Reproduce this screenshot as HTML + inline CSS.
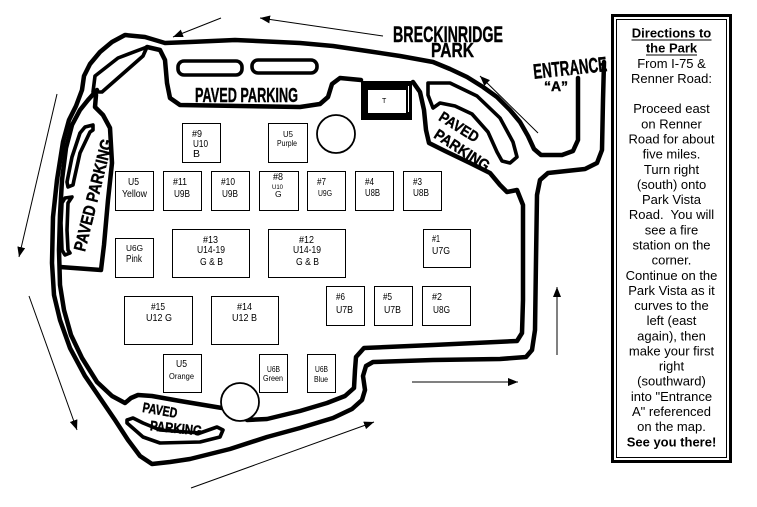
<!DOCTYPE html>
<html><head><meta charset="utf-8"><style>
html,body{margin:0;padding:0;background:#fff;}
body{width:757px;height:507px;overflow:hidden;}
svg{display:block;}
.rd{fill:none;stroke:#000;stroke-width:4.5;stroke-linejoin:round;stroke-linecap:round;}
.is{fill:none;stroke:#000;stroke-width:3.6;stroke-linejoin:round;stroke-linecap:round;}
.bx{fill:#fff;stroke:#000;stroke-width:1;}
.ar{stroke:#000;stroke-width:1;fill:none;}
.ft{font-family:"Liberation Sans",Arial,sans-serif;font-size:10.5px;fill:#000;}
.fs{font-family:"Liberation Sans",Arial,sans-serif;font-size:8.5px;fill:#000;}
.hd{font-family:"Liberation Sans",Arial,sans-serif;font-weight:bold;fill:#000;stroke:#000;stroke-width:0.4;}
.pn{font-family:"Liberation Sans",Arial,sans-serif;font-size:13px;fill:#000;}
</style></head><body>
<svg width="757" height="507" viewBox="0 0 757 507" xmlns="http://www.w3.org/2000/svg">
<defs>
<marker id="ah" markerWidth="10" markerHeight="8" refX="10" refY="4" orient="auto" markerUnits="userSpaceOnUse"><path d="M0,0 L10,4 L0,8 Z" fill="#000"/></marker>
</defs>
<rect width="757" height="507" fill="#fff"/>

<path class="rd" d="M578,78 L578,140 L573,151 L562,155 L541,155 L534,149 L528,136 L520,122 L510,110 L497,97 L483,87 L467,77 L450,69 L433,62 L400,56 L367,51 L333,46 L300,43 L235,40 L190,42 L165,43 L145,37 L125,35 L112,42 L100,52 L90,64 L84,76 L82,90 L76,106 L69,120 L63,142 L57,180 L53,217 L52,263 L54,295 L60,320 L70,348 L85,376 L100,398 L115,420 L128,440 L140,456 L152,464 L170,462 L190,459 L230,449 L267,437 L300,428 L333,418 L352,409 L362,400 L365,390 L363,376 L366,366 L373,362 L433,360 L500,359 L526,357 L532,350 L535,330 L536,260 L537,195 L540,180 L548,173 L585,169 L597,163 L602,150 L603,100 L604,62"/>

<path class="rd" d="M97,90 L88,100 L80,110 L72,125 L66,148 L62,180 L60,215 L59,250 L60,285 L64,310 L71,335 L82,358 L97,382 L112,396 L125,403 L131,398 L138,395 L152,396 L180,401 L222,408"/>
<path class="rd" d="M247,420 L267,419 L300,411 L327,403 L345,396 L354,388 L355,370 L356,357 L364,348 L433,345 L517,341 L522,333 L523,300 L523,205 L517,190 L507,192 L500,185 L490,173 L470,163 L445,151 L429,143 L426,130 L424,110 L420,92 L413,82"/>

<path class="rd" d="M147,47 L160,50 L165,60 L167,83 L170,98 L180,105 L300,107 L320,104 L328,97 L332,84 L340,78 L361,80"/>
<path class="is" d="M93,92 L95,76 L118,58 L147,47 L143,56 L102,92 Z"/>
<path class="rd" d="M96,95 L95,107 L103,115 L110,128 L112,163 L108,200 L104,245 L101,270 L60,267"/>

<rect class="is" x="178" y="61" width="64" height="14" rx="6"/>
<rect class="is" x="252" y="60" width="65" height="13" rx="6"/>
<path class="is" d="M85,127 L93,125 L93,130 L90,132 L80,153 L74,180 L73,185 L68,187 L67,182 L72,157 L80,133 Z"/>
<path class="is" d="M65,198 L72,197 L68,203 L67,230 L68,250 L70,253 L65,255 L62,250 L61,223 L62,203 Z"/>
<path class="is" d="M428,83 L450,83 L477,96 L500,118 L513,142 L517,157 L510,163 L502,161 L497,152 L488,132 L472,114 L455,106 L440,103 L433,108 L428,95 Z"/>
<path class="is" d="M127,420 L133,418 L143,423 L160,430 L200,433 L217,427 L223,430 L220,437 L200,442 L160,443 L143,437 L127,423 Z"/>

<circle cx="336" cy="134" r="19" fill="#fff" stroke="#000" stroke-width="1.8"/>
<circle cx="240" cy="402" r="19" fill="#fff" stroke="#000" stroke-width="1.8"/>

<rect x="361" y="81" width="51" height="39" fill="#000"/>
<rect x="368" y="90" width="38" height="23" fill="#fff"/>
<line x1="408.5" y1="86" x2="408.5" y2="112" stroke="#fff" stroke-width="1"/>
<text x="382" y="103" font-family="Liberation Sans, sans-serif" font-size="7" fill="#000">T</text>

<rect class="bx" x="182.5" y="123.5" width="38" height="39"/>
<rect class="bx" x="268.5" y="123.5" width="39" height="39"/>
<rect class="bx" x="115.5" y="171.5" width="38" height="39"/>
<rect class="bx" x="163.5" y="171.5" width="38" height="39"/>
<rect class="bx" x="211.5" y="171.5" width="38" height="39"/>
<rect class="bx" x="259.5" y="171.5" width="39" height="39"/>
<rect class="bx" x="307.5" y="171.5" width="38" height="39"/>
<rect class="bx" x="355.5" y="171.5" width="38" height="39"/>
<rect class="bx" x="403.5" y="171.5" width="38" height="39"/>
<rect class="bx" x="172.5" y="229.5" width="77" height="48"/>
<rect class="bx" x="268.5" y="229.5" width="77" height="48"/>
<rect class="bx" x="115.5" y="238.5" width="38" height="39"/>
<rect class="bx" x="423.5" y="229.5" width="47" height="38"/>
<rect class="bx" x="326.5" y="286.5" width="38" height="39"/>
<rect class="bx" x="374.5" y="286.5" width="38" height="39"/>
<rect class="bx" x="422.5" y="286.5" width="48" height="39"/>
<rect class="bx" x="124.5" y="296.5" width="68" height="48"/>
<rect class="bx" x="211.5" y="296.5" width="67" height="48"/>
<rect class="bx" x="163.5" y="354.5" width="38" height="38"/>
<rect class="bx" x="259.5" y="354.5" width="28" height="38"/>
<rect class="bx" x="307.5" y="354.5" width="28" height="38"/>

<text class="ft" x="192" y="137" textLength="10" lengthAdjust="spacingAndGlyphs">#9</text>
<text class="ft" x="193" y="147" textLength="15" lengthAdjust="spacingAndGlyphs">U10</text>
<text class="ft" x="193" y="157">B</text>
<text class="fs" x="283" y="137" textLength="10" lengthAdjust="spacingAndGlyphs">U5</text>
<text class="fs" x="277" y="146" textLength="20" lengthAdjust="spacingAndGlyphs">Purple</text>
<text class="ft" x="128" y="185" textLength="11" lengthAdjust="spacingAndGlyphs">U5</text>
<text class="ft" x="122" y="197" textLength="25" lengthAdjust="spacingAndGlyphs">Yellow</text>
<text class="ft" x="173" y="185" textLength="14" lengthAdjust="spacingAndGlyphs">#11</text>
<text class="ft" x="174" y="197" textLength="16" lengthAdjust="spacingAndGlyphs">U9B</text>
<text class="ft" x="221" y="185" textLength="14" lengthAdjust="spacingAndGlyphs">#10</text>
<text class="ft" x="222" y="197" textLength="16" lengthAdjust="spacingAndGlyphs">U9B</text>
<text class="ft" x="273" y="180" textLength="10" lengthAdjust="spacingAndGlyphs">#8</text>
<text x="272" y="189" font-family="Liberation Sans, sans-serif" font-size="6.5" textLength="11" lengthAdjust="spacingAndGlyphs">U10</text>
<text class="fs" x="275" y="197">G</text>
<text class="ft" x="317" y="185" textLength="9" lengthAdjust="spacingAndGlyphs">#7</text>
<text class="fs" x="318" y="196" textLength="14" lengthAdjust="spacingAndGlyphs">U9G</text>
<text class="ft" x="365" y="185" textLength="9" lengthAdjust="spacingAndGlyphs">#4</text>
<text class="ft" x="365" y="196" textLength="15" lengthAdjust="spacingAndGlyphs">U8B</text>
<text class="ft" x="413" y="185" textLength="9" lengthAdjust="spacingAndGlyphs">#3</text>
<text class="ft" x="413" y="196" textLength="16" lengthAdjust="spacingAndGlyphs">U8B</text>
<text class="ft" x="203" y="243" textLength="15" lengthAdjust="spacingAndGlyphs">#13</text>
<text class="ft" x="197" y="253" textLength="28" lengthAdjust="spacingAndGlyphs">U14-19</text>
<text class="ft" x="200" y="265" textLength="23" lengthAdjust="spacingAndGlyphs">G &amp; B</text>
<text class="ft" x="299" y="243" textLength="15" lengthAdjust="spacingAndGlyphs">#12</text>
<text class="ft" x="293" y="253" textLength="28" lengthAdjust="spacingAndGlyphs">U14-19</text>
<text class="ft" x="296" y="265" textLength="23" lengthAdjust="spacingAndGlyphs">G &amp; B</text>
<text class="fs" x="126" y="251" textLength="17" lengthAdjust="spacingAndGlyphs">U6G</text>
<text class="ft" x="126" y="262" textLength="16" lengthAdjust="spacingAndGlyphs">Pink</text>
<text class="ft" x="432" y="242" textLength="8" lengthAdjust="spacingAndGlyphs">#1</text>
<text class="ft" x="432" y="254" textLength="18" lengthAdjust="spacingAndGlyphs">U7G</text>
<text class="ft" x="336" y="300" textLength="9" lengthAdjust="spacingAndGlyphs">#6</text>
<text class="ft" x="336" y="313" textLength="17" lengthAdjust="spacingAndGlyphs">U7B</text>
<text class="ft" x="383" y="300" textLength="9" lengthAdjust="spacingAndGlyphs">#5</text>
<text class="ft" x="384" y="313" textLength="17" lengthAdjust="spacingAndGlyphs">U7B</text>
<text class="ft" x="432" y="300" textLength="10" lengthAdjust="spacingAndGlyphs">#2</text>
<text class="ft" x="433" y="313" textLength="17" lengthAdjust="spacingAndGlyphs">U8G</text>
<text class="ft" x="151" y="310" textLength="14" lengthAdjust="spacingAndGlyphs">#15</text>
<text class="ft" x="146" y="321" textLength="26" lengthAdjust="spacingAndGlyphs">U12 G</text>
<text class="ft" x="237" y="310" textLength="15" lengthAdjust="spacingAndGlyphs">#14</text>
<text class="ft" x="232" y="321" textLength="25" lengthAdjust="spacingAndGlyphs">U12 B</text>
<text class="ft" x="176" y="367" textLength="11" lengthAdjust="spacingAndGlyphs">U5</text>
<text class="fs" x="169" y="379" textLength="25" lengthAdjust="spacingAndGlyphs">Orange</text>
<text class="fs" x="267" y="372" textLength="13" lengthAdjust="spacingAndGlyphs">U6B</text>
<text class="fs" x="263" y="381" textLength="20" lengthAdjust="spacingAndGlyphs">Green</text>
<text class="fs" x="315" y="372" textLength="13" lengthAdjust="spacingAndGlyphs">U6B</text>
<text class="fs" x="314" y="382" textLength="14" lengthAdjust="spacingAndGlyphs">Blue</text>

<text class="hd" x="393" y="42" font-size="22" textLength="110" lengthAdjust="spacingAndGlyphs">BRECKINRIDGE</text>
<text class="hd" x="431" y="57" font-size="20" textLength="43" lengthAdjust="spacingAndGlyphs">PARK</text>
<text class="hd" x="533" y="75" font-size="21" textLength="74" lengthAdjust="spacingAndGlyphs" transform="rotate(-6 570 67)">ENTRANCE</text>
<text class="hd" x="556" y="91" font-size="14" text-anchor="middle">“A”</text>
<text class="hd" x="195" y="102" font-size="20" textLength="103" lengthAdjust="spacingAndGlyphs">PAVED PARKING</text>
<text class="hd" x="0" y="6" font-size="17" text-anchor="middle" textLength="115" lengthAdjust="spacingAndGlyphs" transform="translate(93 195) rotate(-76)">PAVED PARKING</text>
<text class="hd" x="0" y="5" font-size="15" text-anchor="middle" textLength="44" lengthAdjust="spacingAndGlyphs" transform="translate(459 127) rotate(32)">PAVED</text>
<text class="hd" x="0" y="5" font-size="15" text-anchor="middle" textLength="63" lengthAdjust="spacingAndGlyphs" transform="translate(462 150) rotate(33)">PARKING</text>
<text class="hd" x="0" y="5" font-size="14" text-anchor="middle" textLength="35" lengthAdjust="spacingAndGlyphs" transform="translate(160 410) rotate(10)">PAVED</text>
<text class="hd" x="0" y="5" font-size="14" text-anchor="middle" textLength="52" lengthAdjust="spacingAndGlyphs" transform="translate(176 428) rotate(6)">PARKING</text>

<line class="ar" x1="221" y1="18" x2="173" y2="37" marker-end="url(#ah)"/>
<line class="ar" x1="383" y1="36" x2="260" y2="18" marker-end="url(#ah)"/>
<line class="ar" x1="57" y1="94" x2="19" y2="257" marker-end="url(#ah)"/>
<line class="ar" x1="29" y1="296" x2="77" y2="430" marker-end="url(#ah)"/>
<line class="ar" x1="191" y1="488" x2="374" y2="422" marker-end="url(#ah)"/>
<line class="ar" x1="412" y1="382" x2="518" y2="382" marker-end="url(#ah)"/>
<line class="ar" x1="557" y1="355" x2="557" y2="287" marker-end="url(#ah)"/>
<line class="ar" x1="538" y1="133" x2="480" y2="76" marker-end="url(#ah)"/>

<rect x="612.5" y="15.5" width="118" height="446" fill="#fff" stroke="#000" stroke-width="3"/>
<rect x="616.5" y="19.5" width="110" height="438" fill="none" stroke="#000" stroke-width="1"/>
<g class="pn" text-anchor="middle">
<text x="671.5" y="37.5" font-weight="bold">Directions to</text>
<text x="671.5" y="52.6" font-weight="bold">the Park</text>
<text x="671.5" y="67.8">From I-75 &amp;</text>
<text x="671.5" y="82.9">Renner Road:</text>
<text x="671.5" y="113.2">Proceed east</text>
<text x="671.5" y="128.4">on Renner</text>
<text x="671.5" y="143.5">Road for about</text>
<text x="671.5" y="158.6">five miles.</text>
<text x="671.5" y="173.8">Turn right</text>
<text x="671.5" y="188.9">(south) onto</text>
<text x="671.5" y="204.1">Park Vista</text>
<text x="671.5" y="219.2" xml:space="preserve">Road.  You will</text>
<text x="671.5" y="234.3">see a fire</text>
<text x="671.5" y="249.5">station on the</text>
<text x="671.5" y="264.6">corner.</text>
<text x="671.5" y="279.8">Continue on the</text>
<text x="671.5" y="294.9">Park Vista as it</text>
<text x="671.5" y="310.0">curves to the</text>
<text x="671.5" y="325.2">left (east</text>
<text x="671.5" y="340.3">again), then</text>
<text x="671.5" y="355.5">make your first</text>
<text x="671.5" y="370.6">right</text>
<text x="671.5" y="385.7">(southward)</text>
<text x="671.5" y="400.9">into "Entrance</text>
<text x="671.5" y="416.0">A" referenced</text>
<text x="671.5" y="431.2">on the map.</text>
<text x="671.5" y="446.3" font-weight="bold">See you there!</text>
</g>
<line x1="631.5" y1="40" x2="711.5" y2="40" stroke="#000" stroke-width="1"/>
<line x1="646" y1="55" x2="697" y2="55" stroke="#000" stroke-width="1"/>
</svg>
</body></html>
